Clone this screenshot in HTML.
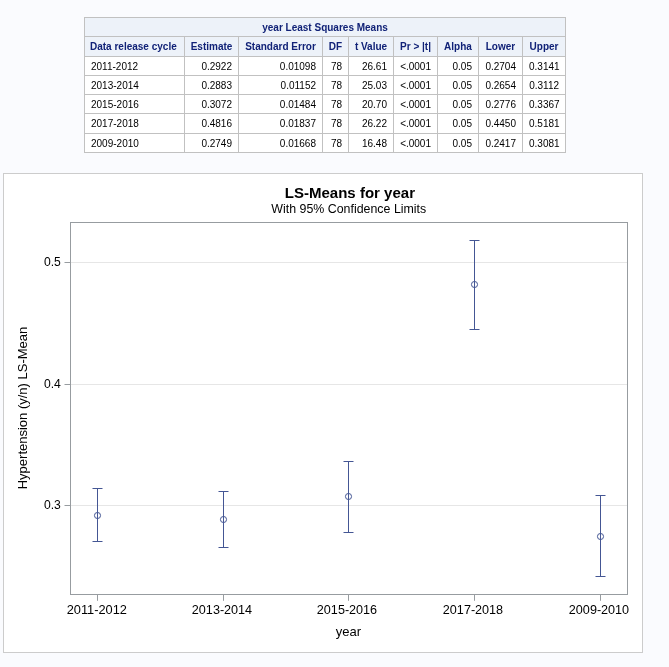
<!DOCTYPE html>
<html><head><meta charset="utf-8"><title>LS-Means</title>
<style>
html,body{margin:0;padding:0;}
body{width:669px;height:667px;overflow:hidden;background:#fafbfe;font-family:"Liberation Sans",Arial,sans-serif;position:relative;}
table.t{position:absolute;left:84px;top:17px;width:482px;border-collapse:collapse;border-spacing:0;table-layout:fixed;font-size:10px;color:#000;}
table.t th,table.t td{border:1px solid #c1c1c1;padding:2px 6px 0 6px;height:16.27px;line-height:12px;white-space:nowrap;overflow:hidden;}
table.t th{background:#edf2f9;color:#112277;font-weight:bold;text-align:center;padding:2px 0 0 0;}
table.t th.l{padding-left:5px;}
table.t td{background:#fff;text-align:right;}
table.t td.l, table.t th.l{text-align:left;}
table.t td.c{text-align:center;}
#g{position:absolute;left:0;top:0;}
</style></head><body>
<table class="t"><colgroup><col style="width:100px"><col style="width:54px"><col style="width:84px"><col style="width:26px"><col style="width:45px"><col style="width:44px"><col style="width:41px"><col style="width:44px"><col style="width:43px"></colgroup><thead><tr><th colspan="9">year Least Squares Means</th></tr><tr><th class="l">Data release cycle</th><th>Estimate</th><th>Standard Error</th><th>DF</th><th>t Value</th><th>Pr &gt; |t|</th><th>Alpha</th><th>Lower</th><th>Upper</th></tr></thead><tbody><tr><td class="l">2011-2012</td><td>0.2922</td><td>0.01098</td><td>78</td><td>26.61</td><td>&lt;.0001</td><td>0.05</td><td>0.2704</td><td>0.3141</td></tr><tr><td class="l">2013-2014</td><td>0.2883</td><td>0.01152</td><td>78</td><td>25.03</td><td>&lt;.0001</td><td>0.05</td><td>0.2654</td><td>0.3112</td></tr><tr><td class="l">2015-2016</td><td>0.3072</td><td>0.01484</td><td>78</td><td>20.70</td><td>&lt;.0001</td><td>0.05</td><td>0.2776</td><td>0.3367</td></tr><tr><td class="l">2017-2018</td><td>0.4816</td><td>0.01837</td><td>78</td><td>26.22</td><td>&lt;.0001</td><td>0.05</td><td>0.4450</td><td>0.5181</td></tr><tr><td class="l">2009-2010</td><td>0.2749</td><td>0.01668</td><td>78</td><td>16.48</td><td>&lt;.0001</td><td>0.05</td><td>0.2417</td><td>0.3081</td></tr></tbody></table>
<svg id="g" width="669" height="667" viewBox="0 0 669 667" font-family="Liberation Sans, Arial, sans-serif">
<rect x="3.5" y="173.5" width="639" height="479" fill="#ffffff" stroke="#cccccc" stroke-width="1"/>
<line x1="70" x2="627" y1="505.5" y2="505.5" stroke="#e6e6e6" stroke-width="1"/>
<line x1="70" x2="627" y1="384.5" y2="384.5" stroke="#e6e6e6" stroke-width="1"/>
<line x1="70" x2="627" y1="262.5" y2="262.5" stroke="#e6e6e6" stroke-width="1"/>
<rect x="70.5" y="222.5" width="557" height="372" fill="none" stroke="#979ca0" stroke-width="1"/>
<line x1="64.5" x2="70" y1="505.5" y2="505.5" stroke="#979ca0" stroke-width="1"/>
<text x="60.8" y="509" font-size="12.6" text-anchor="end" textLength="16.9" lengthAdjust="spacingAndGlyphs" fill="#000">0.3</text>
<line x1="64.5" x2="70" y1="384.5" y2="384.5" stroke="#979ca0" stroke-width="1"/>
<text x="60.8" y="388" font-size="12.6" text-anchor="end" textLength="16.9" lengthAdjust="spacingAndGlyphs" fill="#000">0.4</text>
<line x1="64.5" x2="70" y1="262.5" y2="262.5" stroke="#979ca0" stroke-width="1"/>
<text x="60.8" y="266" font-size="12.6" text-anchor="end" textLength="16.9" lengthAdjust="spacingAndGlyphs" fill="#000">0.5</text>
<line x1="97.5" x2="97.5" y1="595" y2="600.8" stroke="#979ca0" stroke-width="1"/>
<text x="96.8" y="614" font-size="12.6" text-anchor="middle" textLength="60.3" lengthAdjust="spacingAndGlyphs" fill="#000">2011-2012</text>
<g stroke="#445694" stroke-width="1" fill="none"><line x1="97.5" x2="97.5" y1="488.5" y2="541.5"/><line x1="92.5" x2="102.5" y1="488.5" y2="488.5"/><line x1="92.5" x2="102.5" y1="541.5" y2="541.5"/><circle cx="97.5" cy="515.5" r="3.05"/></g>
<line x1="223.5" x2="223.5" y1="595" y2="600.8" stroke="#979ca0" stroke-width="1"/>
<text x="222" y="614" font-size="12.6" text-anchor="middle" textLength="60.3" lengthAdjust="spacingAndGlyphs" fill="#000">2013-2014</text>
<g stroke="#445694" stroke-width="1" fill="none"><line x1="223.5" x2="223.5" y1="491.5" y2="547.5"/><line x1="218.5" x2="228.5" y1="491.5" y2="491.5"/><line x1="218.5" x2="228.5" y1="547.5" y2="547.5"/><circle cx="223.5" cy="519.5" r="3.05"/></g>
<line x1="348.5" x2="348.5" y1="595" y2="600.8" stroke="#979ca0" stroke-width="1"/>
<text x="347" y="614" font-size="12.6" text-anchor="middle" textLength="60.3" lengthAdjust="spacingAndGlyphs" fill="#000">2015-2016</text>
<g stroke="#445694" stroke-width="1" fill="none"><line x1="348.5" x2="348.5" y1="461.5" y2="532.5"/><line x1="343.5" x2="353.5" y1="461.5" y2="461.5"/><line x1="343.5" x2="353.5" y1="532.5" y2="532.5"/><circle cx="348.5" cy="496.5" r="3.05"/></g>
<line x1="474.5" x2="474.5" y1="595" y2="600.8" stroke="#979ca0" stroke-width="1"/>
<text x="473" y="614" font-size="12.6" text-anchor="middle" textLength="60.3" lengthAdjust="spacingAndGlyphs" fill="#000">2017-2018</text>
<g stroke="#445694" stroke-width="1" fill="none"><line x1="474.5" x2="474.5" y1="240.5" y2="329.5"/><line x1="469.5" x2="479.5" y1="240.5" y2="240.5"/><line x1="469.5" x2="479.5" y1="329.5" y2="329.5"/><circle cx="474.5" cy="284.5" r="3.05"/></g>
<line x1="600.5" x2="600.5" y1="595" y2="600.8" stroke="#979ca0" stroke-width="1"/>
<text x="599" y="614" font-size="12.6" text-anchor="middle" textLength="60.3" lengthAdjust="spacingAndGlyphs" fill="#000">2009-2010</text>
<g stroke="#445694" stroke-width="1" fill="none"><line x1="600.5" x2="600.5" y1="495.5" y2="576.5"/><line x1="595.5" x2="605.5" y1="495.5" y2="495.5"/><line x1="595.5" x2="605.5" y1="576.5" y2="576.5"/><circle cx="600.5" cy="536.5" r="3.05"/></g>
<text x="349.9" y="197.6" font-size="14.6" font-weight="bold" text-anchor="middle" textLength="130.2" lengthAdjust="spacingAndGlyphs" fill="#000">LS-Means for year</text>
<text x="348.8" y="213.2" font-size="12.6" text-anchor="middle" textLength="154.9" lengthAdjust="spacingAndGlyphs" fill="#000">With 95% Confidence Limits</text>
<text x="348.5" y="635.6" font-size="13" text-anchor="middle" fill="#000">year</text>
<text transform="translate(27.3,408) rotate(-90)" font-size="13" text-anchor="middle" fill="#000">Hypertension (y/n) LS-Mean</text>
</svg>
</body></html>
